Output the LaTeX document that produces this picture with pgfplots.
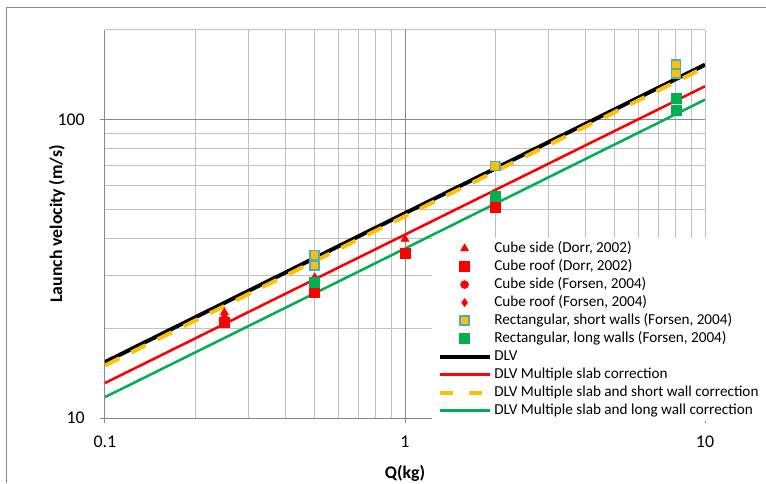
\documentclass[border=0pt]{standalone}
\usepackage{pgfplots}
\pgfplotsset{compat=1.18}
\usepackage{fontspec}
\setmainfont{Carlito}
\definecolor{xred}{HTML}{FF0000}
\definecolor{xgreen}{HTML}{00B050}
\definecolor{xyellow}{HTML}{FFC000}
\definecolor{xblue}{HTML}{4BACC6}
\definecolor{gridminor}{HTML}{C0C0C0}
\definecolor{gridmajor}{HTML}{898989}
\pgfplotsset{
  mylines/.style={legend image code/.code={\draw[##1] (0pt,0pt) -- (37.5pt,0pt);}},
  mymarks/.style={legend image code/.code={\draw[mark repeat=2,mark phase=2,##1] plot coordinates {(0pt,0pt) (18.75pt,0pt) (37.5pt,0pt)};}},
}
\begin{document}
\begin{tikzpicture}
\useasboundingbox (-78.75pt,-48.75pt) rectangle (495.75pt,313.5pt);
\draw[gridmajor, line width=0.75pt] (-73.5pt,-48.75pt) -- (-73.5pt,307.5pt) -- (495.75pt,307.5pt);
\begin{axis}[
  at={(0,0)}, anchor=south west,
  scale only axis, width=450pt, height=291pt,
  xmode=log, ymode=log,
  xmin=0.1, xmax=10, ymin=10, ymax=200,
  axis x line*=bottom, axis y line*=left,
  xtick={0.1,1,10}, xticklabels={0.1,1,10},
  ytick={10,100}, yticklabels={10,100},
  minor xtick={0.2,0.3,0.4,0.5,0.6,0.7,0.8,0.9,2,3,4,5,6,7,8,9},
  minor ytick={20,30,40,50,60,70,80,90,200},
  grid=both,
  major grid style={gridminor, line width=0.75pt},
  minor grid style={gridminor, line width=0.75pt},
  axis line style={gridmajor, line width=0.75pt},
  tick style={gridmajor, line width=0.75pt},
  tick align=outside,
  major tick length=4pt, minor tick length=0pt,
  extra x ticks={1}, extra x tick labels={},
  extra x tick style={grid=major, major grid style={gridmajor, line width=0.75pt}, major tick length=0pt},
  extra y ticks={100}, extra y tick labels={},
  extra y tick style={grid=major, major grid style={gridmajor, line width=0.75pt}, major tick length=0pt},
  /pgf/number format/assume math mode=true,
  ticklabel style={font=\fontsize{13.4}{16}\selectfont},
  xticklabel style={anchor=center, yshift=-14pt},
  yticklabel style={anchor=east, inner sep=0pt, xshift=-11pt},
  xlabel={Q(kg)}, ylabel={Launch velocity (m/s)},
  every axis x label/.style={at={(axis description cs:0.5,0)}, yshift=-41.5pt, anchor=center, font=\fontsize{13.3}{16}\selectfont\bfseries},
  every axis y label/.style={at={(axis description cs:0,0.5)}, xshift=-36pt, rotate=90, anchor=center, font=\fontsize{13.3}{16}\selectfont\bfseries},
  legend style={
    at={(axis description cs:0.545,0.4639)}, anchor=north west,
    fill=white, draw=none,
    font=\fontsize{11.4}{13}\selectfont,
    inner xsep=4pt, inner ysep=2pt, row sep=2pt,
    nodes={inner xsep=2pt, inner ysep=0pt, text height=8.5pt, text depth=3pt},
  },
  legend cell align=left,
]
% lines
\addplot[forget plot, black, line width=3pt] coordinates {(0.1,15.4) (1,48.6) (10,153)};
\addplot[forget plot, xred, line width=1.9pt] coordinates {(0.1,13.1) (1,41.2) (10,129.5)};
\addplot[forget plot, xyellow, line width=3pt, dash pattern=on 12pt off 10pt] coordinates {(0.1,15.0) (1,47.5) (10,150)};
\addplot[forget plot, xgreen, line width=1.9pt] coordinates {(0.1,11.75) (1,37.0) (10,116.8)};
% markers
\addplot[only marks, mark=triangle*, mark size=3.5pt, xred, mymarks] coordinates {(0.25,22.6) (0.25,22.0) (0.5,29.6) (1,39.8)};
\addlegendentry{Cube side (Dorr, 2002)}
\addplot[only marks, mark=square*, mark size=3.75pt, xred, mymarks] coordinates {(0.25,20.9) (0.5,26.5) (1,35.8) (2,50.8)};
\addlegendentry{Cube roof (Dorr, 2002)}
\addplot[only marks, mark=*, mark size=3pt, xred, mymarks] coordinates {(0.5,28.6)};
\addlegendentry{Cube side (Forsen, 2004)}
\addplot[only marks, mark=diamond*, mark size=3pt, xred, mymarks] coordinates {(0.5,28.6)};
\addlegendentry{Cube roof (Forsen, 2004)}
\addplot[only marks, mark=square*, mark size=3.4pt, draw=xblue, fill=xyellow, line width=1.1pt, mymarks] coordinates {(0.5,35.2) (0.5,32.5) (2,70.1) (8,153.3) (8,142.9)};
\addlegendentry{Rectangular, short walls (Forsen, 2004)}
\addplot[only marks, mark=square*, mark size=3.75pt, xgreen, mymarks] coordinates {(0.5,28.6) (2,55.3) (8,118.5) (8,108.0)};
\addlegendentry{Rectangular, long walls (Forsen, 2004)}
\addlegendimage{black, line width=3pt, mylines}
\addlegendentry{DLV}
\addlegendimage{xred, line width=1.9pt, mylines}
\addlegendentry{DLV Multiple slab correction}
\addlegendimage{xyellow, line width=3pt, dash pattern=on 10pt off 12pt, mylines}
\addlegendentry{DLV Multiple slab and short wall correction}
\addlegendimage{xgreen, line width=1.9pt, mylines}
\addlegendentry{DLV Multiple slab and long wall correction}
\end{axis}
\end{tikzpicture}
\end{document}
